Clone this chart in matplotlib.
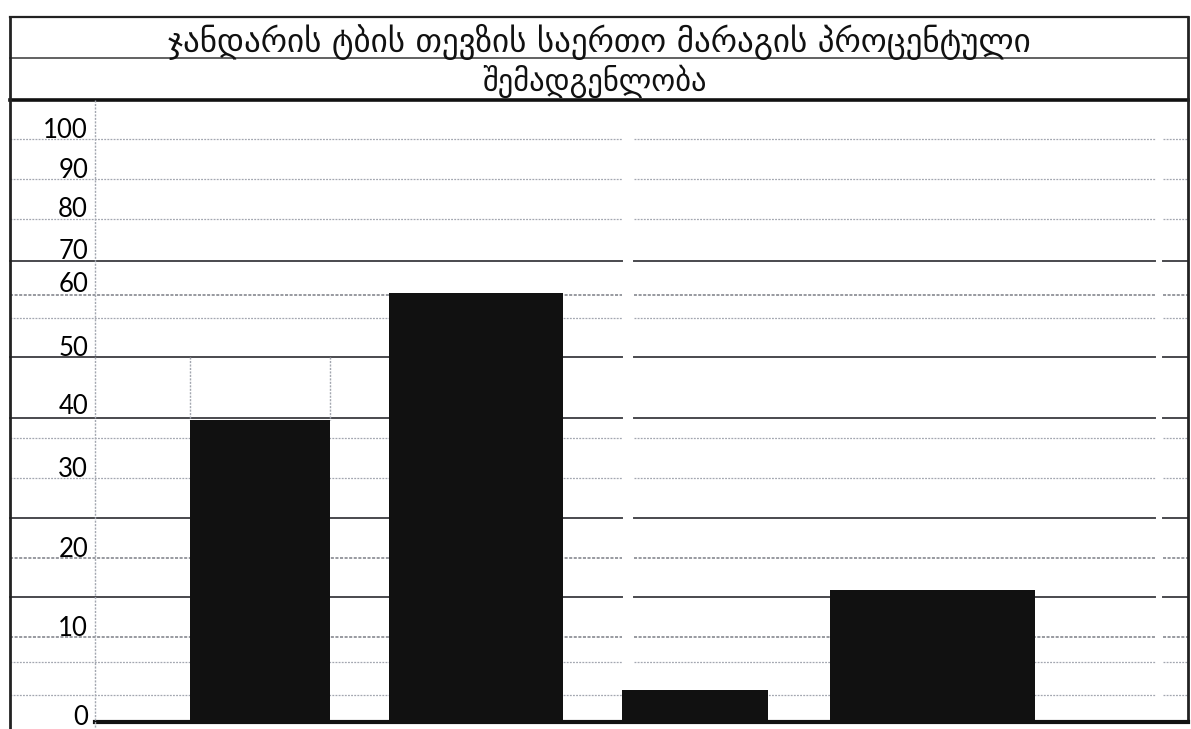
import numpy as np
import matplotlib
matplotlib.use("Agg")
import matplotlib.pyplot as plt
from matplotlib.transforms import ScaledTranslation

# --- data ---
title_1 = "ჯანდარის ტბის თევზის საერთო მარაგის პროცენტული"
title_2 = "შემადგენლობა"
tick_values = [0, 10, 20, 30, 40, 50, 60, 70, 80, 90, 100]
tick_labels = ["0", "10", "20", "30", "40", "50", "60", "70", "80", "90", "100"]
bar_values = [37.5, 58.3, 3.3, 14.6]

# --- layout (pixels of the 1191x729 picture) ---
W, H = 1191, 729
bar_centers = [260, 476, 695, 932]
bar_widths = [140, 174, 146, 205]
# the printed axis is uneven: pixel row of every tick value
tick_px = [722, 626, 547, 467, 404, 346, 282, 249, 207, 168, 128]

# spreadsheet row lines: (y, kind)
rows = [(139, "l"), (179, "l"), (219, "l"), (261, "d"), (295, "m"), (318, "l"),
        (357, "d"), (418, "d"), (438, "l"), (478, "l"), (518, "d"), (558, "m"),
        (597, "d"), (637, "m"), (662, "l"), (695, "l")]
styles = {"l": dict(color="#a3a7b0", lw=0.9, ls=(0, (1.5, 1))),
          "m": dict(color="#7c7f86", lw=1.1, ls=(0, (2, 1))),
          "d": dict(color="#4a4a4e", lw=1.4, ls="-")}
gaps = [(622, 634), (1155, 1163)]

fig = plt.figure(figsize=(W / 100, H / 100), dpi=100)

# background sheet (borders, grid, title)
bg = fig.add_axes([0, 0, 1, 1])
bg.set_xlim(0, W)
bg.set_ylim(H, 0)
bg.axis("off")

for y, kind in rows:
    xs = [10]
    for g0, g1 in gaps:
        xs += [g0, g1]
    xs.append(1188)
    for i in range(0, len(xs), 2):
        bg.plot([xs[i], xs[i + 1]], [y, y], **styles[kind])

bg.plot([10, 1188], [17, 17], color="#222", lw=1.6)
bg.plot([10, 1188], [58, 58], color="#555", lw=1.3)
bg.plot([10, 1188], [100, 100], color="#111", lw=2.6)
bg.plot([10, 10], [17, H], color="#222", lw=2)
bg.plot([1188, 1188], [17, 722], color="#222", lw=2)
bg.plot([95, 1188], [722, 722], color="#111", lw=3)
bg.plot([95, 95], [100, H], color="#a3a7b0", lw=1, ls=(0, (1.5, 1)))
bg.plot([190, 190], [357, 420], color="#a3a7b0", lw=1, ls=(0, (1.5, 1)))
bg.plot([330, 330], [357, 420], color="#a3a7b0", lw=1, ls=(0, (1.5, 1)))

bg.text(599, 42, title_1, ha="center", va="center", fontsize=23.8,
        family="DejaVu Sans", color="#111")
bg.text(594, 81, title_2, ha="center", va="center", fontsize=22,
        family="DejaVu Sans", color="#111")

# chart with the uneven value axis
ax = fig.add_axes([95 / W, (H - 722) / H, (1188 - 95) / W, (722 - 100) / H])
ax.set_facecolor("none")
sv = np.array(tick_values + [110], float)
sp = -np.array(tick_px + [88], float)


def fwd(v):
    return np.interp(v, sv, sp)


def inv(t):
    return np.interp(t, sp, sv)


ax.set_yscale("function", functions=(fwd, inv))
ax.set_xlim(95, 1188)
ax.set_ylim(0, 107)

ax.bar(bar_centers, bar_values, width=bar_widths, color="#111111", zorder=3)

ax.set_yticks(tick_values)
ax.set_yticklabels(tick_labels, fontsize=18.5, family="Lato", color="#000000")
ax.yaxis.set_minor_locator(matplotlib.ticker.NullLocator())
ax.tick_params(axis="y", length=0, pad=5)
ax.set_xticks([])
for s in ax.spines.values():
    s.set_visible(False)

# the "0" sits a little above the base line in its cell
lab0 = ax.get_yticklabels()[0]
lab0.set_transform(lab0.get_transform() + ScaledTranslation(0, 5 / 72, fig.dpi_scale_trans))

fig.savefig("out.png", dpi=100)
